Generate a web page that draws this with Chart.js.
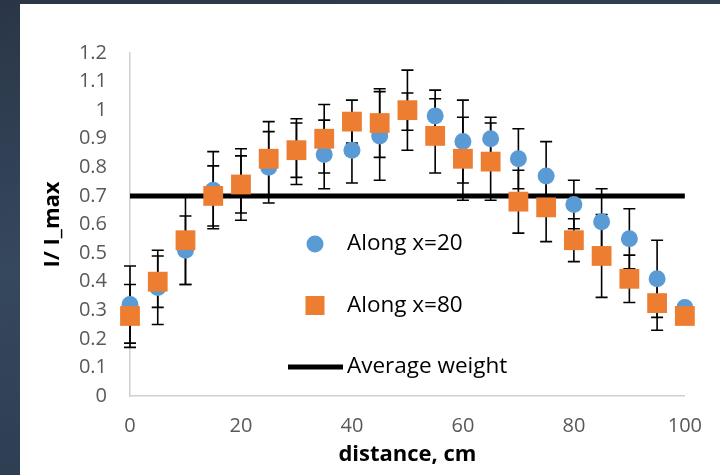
<!DOCTYPE html>
<html>
<head>
<meta charset="utf-8">
<script src="https://cdn.jsdelivr.net/npm/chart.js@4.4.1/dist/chart.umd.min.js"></script>
<style>
  html, body { margin: 0; width: 720px; height: 475px; overflow: hidden; }
  body { position: relative; background: linear-gradient(170deg, #2a3647 0%, #36485e 45%, #2b394b 100%); }
  #panel { position: absolute; left: 20px; top: 4px; width: 700px; height: 471px; background: #fff; }
</style>
</head>
<body>
<div id="panel"><canvas id="profileChart" width="700" height="471"></canvas></div>
<script>
const distance = [0, 5, 10, 15, 20, 25, 30, 35, 40, 45, 50, 55, 60, 65, 70, 75, 80, 85, 90, 95, 100];
const alongX20 = [0.32, 0.38, 0.51, 0.72, 0.74, 0.80, 0.855, 0.845, 0.86, 0.91, 0.995, 0.98, 0.89, 0.90, 0.83, 0.77, 0.67, 0.61, 0.55, 0.41, 0.31];
const errX20 = [0.135, 0.13, 0.12, 0.135, 0.125, 0.125, 0.115, 0.12, 0.115, 0.155, 0.065, 0.09, 0.145, 0.075, 0.105, 0.12, 0.085, 0.115, 0.105, 0.135, 0];
const alongX80 = [0.28, 0.40, 0.545, 0.70, 0.74, 0.83, 0.86, 0.90, 0.96, 0.955, 1.0, 0.91, 0.83, 0.82, 0.68, 0.66, 0.545, 0.49, 0.41, 0.325, 0.28];
const errX80 = [0.11, 0.09, 0.155, 0.105, 0.10, 0.13, 0.095, 0.12, 0.075, 0.12, 0.14, 0.13, 0.145, 0.135, 0.11, 0.12, 0.075, 0.145, 0.083, 0.095, 0];
const averageWeight = 0.7;
const xTicks = [0, 20, 40, 60, 80, 100];
const yTicks = [0, 0.1, 0.2, 0.3, 0.4, 0.5, 0.6, 0.7, 0.8, 0.9, 1, 1.1, 1.2];

const BLUE = "#5B9BD5";
const ORANGE = "#ED7D31";

const toPoints = (ys) => ys.map((v, i) => ({ x: distance[i], y: v }));

// symmetric error bars, drawn under the markers
const errorBars = {
  id: "errorBars",
  beforeDatasetsDraw(chart) {
    const { ctx, scales: { x, y } } = chart;
    ctx.save();
    ctx.strokeStyle = "#000";
    ctx.lineWidth = 1.6;
    chart.data.datasets.forEach((ds) => {
      if (!ds.errors) return;
      ds.data.forEach((p, j) => {
        const e = ds.errors[j];
        if (!e) return;
        const px = x.getPixelForValue(p.x);
        const top = y.getPixelForValue(p.y + e);
        const bot = y.getPixelForValue(p.y - e);
        ctx.beginPath();
        ctx.moveTo(px, top); ctx.lineTo(px, bot);
        ctx.moveTo(px - 6, top); ctx.lineTo(px + 6, top);
        ctx.moveTo(px - 6, bot); ctx.lineTo(px + 6, bot);
        ctx.stroke();
      });
    });
    ctx.restore();
  },
};

// legend sits inside the plot area
const insetLegend = {
  id: "insetLegend",
  afterDraw(chart) {
    const { ctx, chartArea } = chart;
    const cx = chartArea.left + 185;
    const y0 = chartArea.top + 191;
    const gap = 61.5;
    ctx.save();
    ctx.fillStyle = BLUE;
    ctx.beginPath();
    ctx.arc(cx, y0, 8.5, 0, Math.PI * 2);
    ctx.fill();
    ctx.fillStyle = ORANGE;
    ctx.fillRect(cx - 9.5, y0 + gap - 9.5, 19, 19);
    ctx.strokeStyle = "#000";
    ctx.lineWidth = 5;
    ctx.beginPath();
    ctx.moveTo(cx - 27, y0 + 2 * gap);
    ctx.lineTo(cx + 28, y0 + 2 * gap);
    ctx.stroke();
    ctx.fillStyle = "#000";
    ctx.font = "22.5px 'Open Sans', sans-serif";
    ctx.textBaseline = "middle";
    ctx.fillText("Along x=20", cx + 32, y0);
    ctx.fillText("Along x=80", cx + 32, y0 + gap);
    ctx.fillText("Average weight", cx + 32, y0 + 2 * gap);
    ctx.restore();
  },
};

Chart.defaults.font.family = "'Open Sans', sans-serif";

new Chart(document.getElementById("profileChart"), {
  type: "scatter",
  data: {
    datasets: [
      {
        label: "Along x=80",
        data: toPoints(alongX80),
        errors: errX80,
        pointStyle: "rect",
        pointRadius: 14,
        pointBorderWidth: 0,
        backgroundColor: ORANGE,
        borderColor: ORANGE,
        clip: false,
      },
      {
        label: "Along x=20",
        data: toPoints(alongX20),
        errors: errX20,
        pointStyle: "circle",
        pointRadius: 8.5,
        pointBorderWidth: 0,
        backgroundColor: BLUE,
        borderColor: BLUE,
        clip: false,
      },
      {
        label: "Average weight",
        data: [{ x: 0, y: averageWeight }, { x: 100, y: averageWeight }],
        showLine: true,
        borderColor: "#000",
        borderWidth: 5,
        pointRadius: 0,
        clip: false,
      },
    ],
  },
  options: {
    responsive: false,
    animation: false,
    events: [],
    layout: { padding: { left: 0, right: 35, top: 49, bottom: 0 } },
    plugins: { legend: { display: false }, tooltip: { enabled: false } },
    scales: {
      x: {
        type: "linear",
        min: 0,
        max: 100,
        afterBuildTicks: (s) => { s.ticks = xTicks.map((v) => ({ value: v })); },
        afterFit: (s) => { s.height = 79; },
        grid: { display: false, drawTicks: false },
        border: { display: true, color: "#d0d0d0", width: 1.5 },
        ticks: { color: "#595959", font: { size: 20 }, padding: 18 },
        title: { display: true, text: "distance, cm", color: "#000", font: { size: 22, weight: "bold" }, padding: { top: 7, bottom: 7 } },
      },
      y: {
        min: 0,
        max: 1.2,
        afterBuildTicks: (s) => { s.ticks = yTicks.map((v) => ({ value: v })); },
        afterFit: (s) => { s.width = 110; },
        grid: { display: false, drawTicks: false },
        border: { display: true, color: "#d0d0d0", width: 1.5 },
        ticks: { color: "#595959", font: { size: 20 }, padding: 23, callback: (v) => String(+v.toFixed(1)) },
        title: { display: true, text: "I/ I_max", color: "#000", font: { size: 22, weight: "bold" }, padding: { top: 20, bottom: 0 } },
      },
    },
  },
  plugins: [errorBars, insetLegend],
});
</script>
</body>
</html>
